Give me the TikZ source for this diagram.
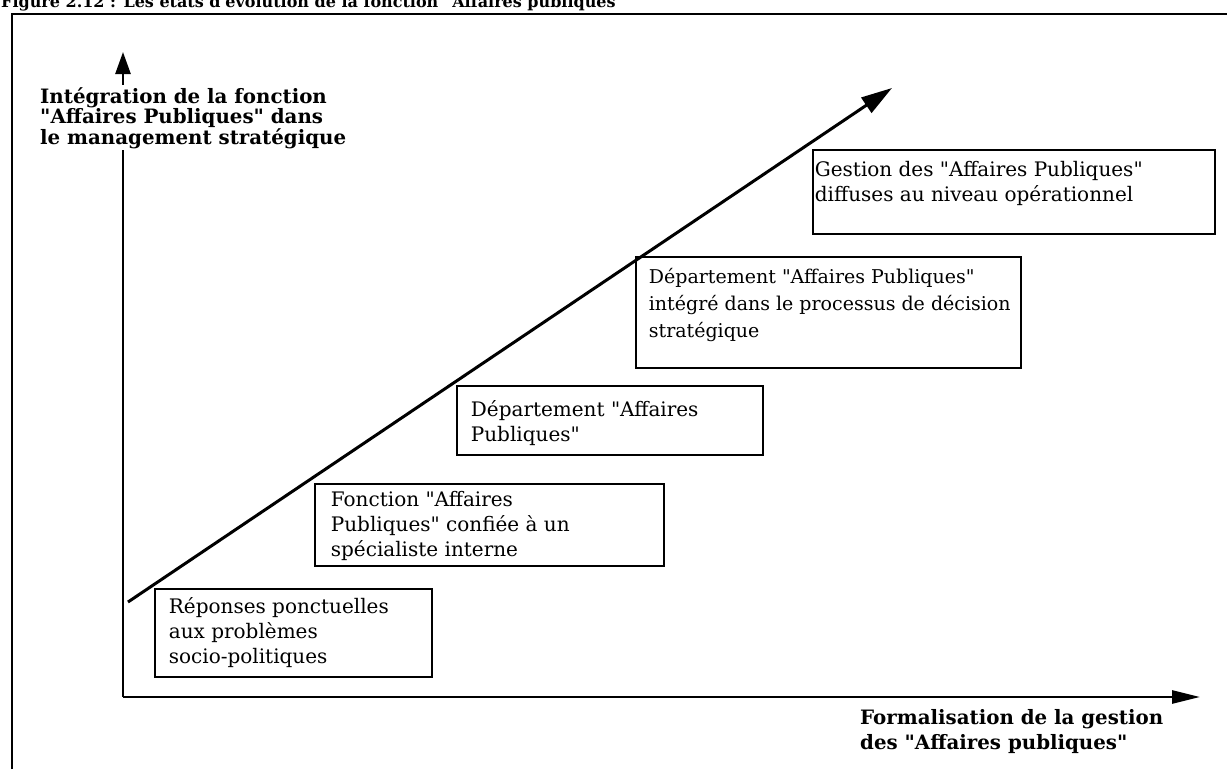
\documentclass[tikz,border=0pt]{standalone}
\usepackage{fontspec}
\setmainfont{DejaVu Serif}[Ligatures=TeXOff]
\usetikzlibrary{arrows.meta,calc}
% straight double quote
\newcommand\dquote{\symbol{34}}
% top-aligned text block of fixed size inside a stage box
\newcommand\stagetext[3]{\parbox[t][#2][t]{#1}{\raggedright #3}}
\begin{document}
\begin{tikzpicture}[x=1pt,y=-1pt,
  frameline/.style={line width=2.2pt},
  axisline/.style={line width=2.6pt},
  stagebox/.style={draw, line width=1.8pt, anchor=north west,
    font=\fontsize{20}{25}\selectfont},
  axislabel/.style={font=\fontsize{19.8}{20.5}\selectfont\bfseries,
    align=left, inner sep=2pt, anchor=north west},
]
\useasboundingbox (0,0) rectangle (1227,769);
\clip (0,0) rectangle (1227,769);

% caption line, cut by the top edge
\node[anchor=base west, inner sep=0pt, font=\fontsize{16}{18}\selectfont\bfseries]
  (title) at (1,7) {Figure 2.12 : Les états d'évolution de la fonction \dquote Affaires publiques\dquote};

% frame
\coordinate (fBL) at (12,769);
\coordinate (fTL) at (12,14);
\coordinate (fTR) at (1227,14);
\draw[frameline] (fBL) -- (fTL) -- (fTR);

% axes
\coordinate (O) at (123,697);
\coordinate (ytip) at (123,52);
\coordinate (xtip) at (1200,697);
\draw[axisline,-{Triangle[length=22pt,width=15pt]}] (O) -- (ytip);
\draw[axisline,-{Triangle[length=28pt,width=13pt]}] (O) -- (xtip);

% evolution arrow
\coordinate (dstart) at (128,602);
\coordinate (dtip) at (892,88);
\draw[line width=3pt,-{Triangle[length=31pt,width=18pt]}] (dstart) -- (dtip);

% axis labels
\node[axislabel, fill=white] (ylab) at (38,85)
  {Intégration de la fonction\\\dquote Affaires Publiques\dquote\ dans\\le management stratégique};
\node[axislabel] (xlab) at (858,707)
  {Formalisation de la gestion\\[5pt]des \dquote Affaires publiques\dquote};

% stages
\node[stagebox, inner xsep=14pt, inner ysep=9pt] (s1) at (154,588)
  {\stagetext{249pt}{70pt}{Réponses ponctuelles\\aux problèmes\\socio-politiques}};
\node[stagebox, inner xsep=16pt, inner ysep=7pt] (s2) at (314,483)
  {\stagetext{317pt}{68pt}{Fonction \dquote Affaires\\Publiques\dquote\ confiée à un\\spécialiste interne}};
\node[stagebox, inner xsep=14pt, inner ysep=15pt] (s3) at (456,385)
  {\stagetext{278pt}{39pt}{Département \dquote Affaires\\Publiques\dquote}};
\node[stagebox, inner xsep=13pt, inner ysep=11pt,
  font=\fontsize{19}{27}\selectfont] (s4) at (635,256)
  {\stagetext{359pt}{89pt}{\mbox{Département \dquote Affaires Publiques\dquote}\\
    \mbox{intégré dans le processus de décision}\\stratégique}};
\node[stagebox, inner xsep=2pt, inner ysep=11pt] (s5) at (812,149)
  {\stagetext{398pt}{62pt}{Gestion des \dquote Affaires Publiques\dquote\\diffuses au niveau opérationnel}};
\end{tikzpicture}
\end{document}
